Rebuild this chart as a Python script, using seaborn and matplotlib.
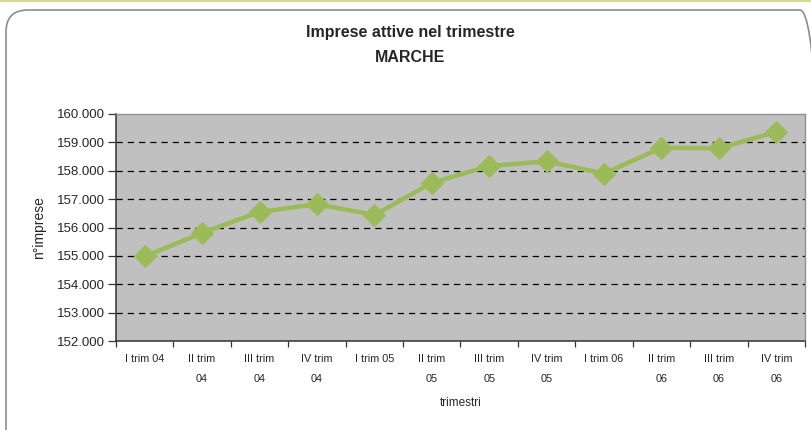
import matplotlib
matplotlib.use("Agg")
import matplotlib.pyplot as plt
import seaborn as sns
import pandas as pd
from matplotlib.patches import FancyBboxPatch, Rectangle
from matplotlib.ticker import FuncFormatter, FixedLocator

# dati
trimestri = ["I trim 04", "II trim\n04", "III trim\n04", "IV trim\n04",
             "I trim 05", "II trim\n05", "III trim\n05", "IV trim\n05",
             "I trim 06", "II trim\n06", "III trim\n06", "IV trim\n06"]
imprese = [154980, 155810, 156550, 156820, 156440, 157570,
           158170, 158330, 157900, 158810, 158790, 159370]
y_ticks = [152000, 153000, 154000, 155000, 156000, 157000, 158000, 159000, 160000]

df = pd.DataFrame({"pos": range(len(trimestri)), "imprese": imprese})

sns.set_theme(style="white")
plt.rcParams["font.family"] = ["Liberation Sans", "DejaVu Sans"]

fig = plt.figure(figsize=(8.12, 4.30), dpi=100)
ax = fig.add_axes([116 / 812, 1 - 341 / 430, (805 - 116) / 812, (341 - 114) / 430])

# cornice esterna arrotondata
fig.patches.append(Rectangle((0, 1 - 2 / 430), 1, 2 / 430, transform=fig.transFigure,
                             facecolor="#d8d890", edgecolor="none"))
fig.patches.append(FancyBboxPatch((6 / 812, -0.05), 816 / 812, (430 - 10) / 430 + 0.05,
                                  boxstyle="round,pad=0,rounding_size=0.027",
                                  transform=fig.transFigure, facecolor="none",
                                  edgecolor="#8c8c8c", linewidth=1.2,
                                  mutation_aspect=812 / 430))

ax.set_facecolor("#c0c0c0")
for y in y_ticks[1:-1]:
    ax.axhline(y, color="black", linestyle=(0, (5, 4)), linewidth=0.9, zorder=1)

sns.lineplot(data=df, x="pos", y="imprese", ax=ax, color="#9bbb59",
             linewidth=3.2, marker="D", markersize=11, markeredgecolor="#9bbb59",
             zorder=3)

ax.set_xlim(-0.5, len(trimestri) - 0.5)
ax.set_ylim(152000, 160000)
ax.yaxis.set_major_locator(FixedLocator(y_ticks))
ax.yaxis.set_major_formatter(FuncFormatter(lambda v, p: f"{int(v):,}".replace(",", ".")))

ax.set_xticks([i + 0.5 for i in range(-1, len(trimestri))])
ax.set_xticklabels([])
ax.set_xticks(range(len(trimestri)), minor=True)
ax.set_xticklabels(trimestri, minor=True, fontsize=7.8, va="top", linespacing=2.35)
ax.tick_params(axis="x", which="major", direction="out", length=4, width=0.9,
               color="#333333", bottom=True)
ax.tick_params(axis="x", which="minor", length=0, pad=9)
ax.tick_params(axis="y", direction="out", length=6, width=0.9, color="#333333",
               left=True, labelsize=9.5, pad=2)

for side in ["left", "bottom"]:
    ax.spines[side].set_color("#333333")
    ax.spines[side].set_linewidth(1.1)
for side in ["top", "right"]:
    ax.spines[side].set_color("#909090")
    ax.spines[side].set_linewidth(1.0)

ax.set_xlabel("trimestri", fontsize=8.5, labelpad=9)
ax.set_ylabel("n°imprese", fontsize=10, labelpad=8)

fig.text(0.505, 1 - 33 / 430, "Imprese attive nel trimestre", ha="center", va="center",
         fontsize=11.5, fontweight="bold")
fig.text(0.505, 1 - 58 / 430, "MARCHE", ha="center", va="center",
         fontsize=11.5, fontweight="bold")

fig.savefig("out.png", dpi=100)
